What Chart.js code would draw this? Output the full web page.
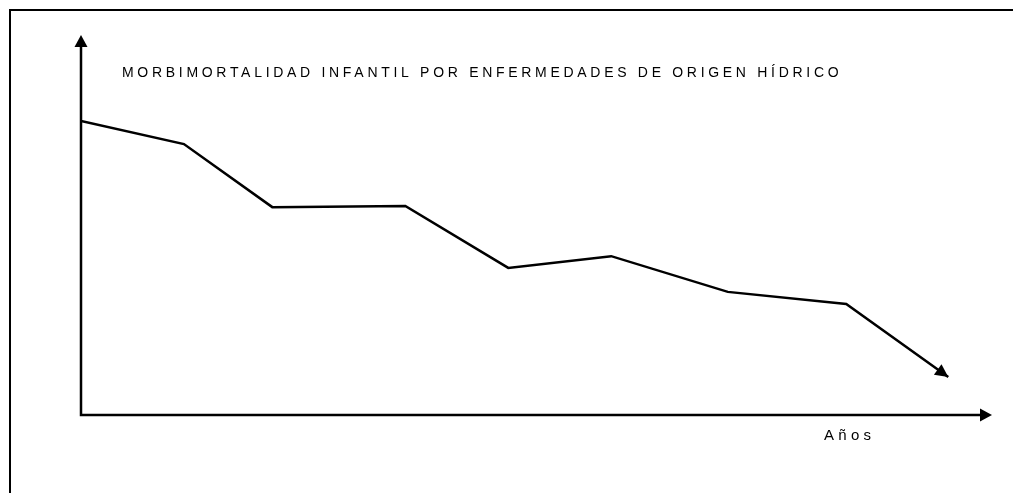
<!DOCTYPE html>
<html>
<head>
<meta charset="utf-8">
<script src="https://cdn.jsdelivr.net/npm/chart.js@4.4.0/dist/chart.umd.min.js"></script>
<style>
  html, body { margin: 0; padding: 0; background: #fff; }
  canvas { display: block; }
</style>
</head>
<body>
<canvas id="chart" width="1013" height="493"></canvas>
<script>
// values (no tick labels, so units are arbitrary 0..100)
const years = [0, 11.3, 21.0, 35.6, 46.9, 58.2, 71.0, 84.0, 95.2]
const morbimortalidad = [77.4, 71.3, 54.7, 55.0, 38.7, 41.8, 32.4, 29.2, 10.0]

const titleText = 'MORBIMORTALIDAD INFANTIL POR ENFERMEDADES DE ORIGEN HÍDRICO'
const xLabel = 'Años'

const points = years.map((x, i) => ({ x: x, y: morbimortalidad[i] }))

function arrowHead(ctx, fromX, fromY, toX, toY, len, half) {
  const a = Math.atan2(toY - fromY, toX - fromX)
  ctx.beginPath()
  ctx.moveTo(toX, toY)
  ctx.lineTo(toX - len * Math.cos(a) + half * Math.sin(a), toY - len * Math.sin(a) - half * Math.cos(a))
  ctx.lineTo(toX - len * Math.cos(a) - half * Math.sin(a), toY - len * Math.sin(a) + half * Math.cos(a))
  ctx.closePath()
  ctx.fill()
}

// frame, axes with arrows and the free texts
const sketchPlugin = {
  id: 'sketch',
  beforeDatasetsDraw(chart) {
    const ctx = chart.ctx
    const area = chart.chartArea
    ctx.save()
    ctx.strokeStyle = '#000'
    ctx.fillStyle = '#000'
    ctx.lineWidth = 2
    // outer frame (right and bottom fall outside the picture)
    ctx.strokeRect(10, 10, 1100, 600)
    // axes
    ctx.lineWidth = 2.5
    ctx.beginPath()
    ctx.moveTo(area.left, area.top + 8)
    ctx.lineTo(area.left, area.bottom)
    ctx.lineTo(area.right - 8, area.bottom)
    ctx.stroke()
    arrowHead(ctx, area.left, area.bottom, area.left, area.top, 12, 6.5)
    arrowHead(ctx, area.left, area.bottom, area.right, area.bottom, 12, 6.5)

    ctx.font = '14px "Liberation Sans", Arial, sans-serif'
    ctx.letterSpacing = '3.7px'
    ctx.textBaseline = 'alphabetic'
    ctx.fillStyle = '#000'
    ctx.fillText(titleText, 122, 77)
    ctx.font = '15px "Liberation Sans", Arial, sans-serif'
    ctx.letterSpacing = '4.3px'
    ctx.fillText(xLabel, 824, 440)
    ctx.restore()
  },
  afterDatasetsDraw(chart) {
    const ctx = chart.ctx
    const pts = chart.getDatasetMeta(0).data
    const last = pts[pts.length - 1]
    const prev = pts[pts.length - 2]
    ctx.save()
    ctx.fillStyle = '#000'
    arrowHead(ctx, prev.x, prev.y, last.x, last.y, 13, 6.5)
    ctx.restore()
  }
}

const chart = new Chart(document.getElementById('chart'), {
  type: 'line',
  data: {
    datasets: [{
      data: points,
      borderColor: '#000',
      borderWidth: 2.5,
      pointRadius: 0,
      tension: 0,
      fill: false
    }]
  },
  options: {
    responsive: false,
    animation: false,
    layout: { padding: { left: 81, right: 21, top: 35, bottom: 78 } },
    plugins: { legend: { display: false }, tooltip: { enabled: false }, title: { display: false } },
    scales: {
      x: { type: 'linear', min: 0, max: 100, display: false },
      y: { type: 'linear', min: 0, max: 100, display: false }
    }
  },
  plugins: [sketchPlugin]
})
</script>
</body>
</html>
